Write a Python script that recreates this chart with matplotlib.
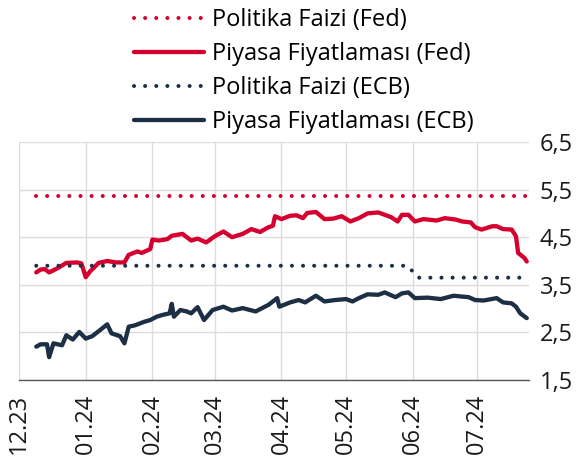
import matplotlib
matplotlib.use("Agg")
import matplotlib.pyplot as plt
import matplotlib.dates as mdates
import pandas as pd

plt.rcParams["font.family"] = ["Open Sans", "DejaVu Sans"]

RED = "#D5002F"
NAVY = "#1C2F45"

# Piyasa fiyatlamasi (Fed)
fed_dates = [
    "2023-12-09", "2023-12-11", "2023-12-13", "2023-12-15", "2023-12-19",
    "2023-12-23", "2023-12-28", "2023-12-30", "2024-01-01", "2024-01-03",
    "2024-01-07", "2024-01-11", "2024-01-15", "2024-01-19", "2024-01-21",
    "2024-01-25", "2024-01-27", "2024-01-31", "2024-02-01", "2024-02-04",
    "2024-02-08", "2024-02-10", "2024-02-15", "2024-02-19", "2024-02-22",
    "2024-02-26", "2024-03-01", "2024-03-05", "2024-03-09", "2024-03-14",
    "2024-03-18", "2024-03-22", "2024-03-26", "2024-03-28", "2024-03-29",
    "2024-04-01", "2024-04-05", "2024-04-08", "2024-04-11", "2024-04-13",
    "2024-04-17", "2024-04-21", "2024-04-25", "2024-04-29", "2024-05-03",
    "2024-05-07", "2024-05-11", "2024-05-16", "2024-05-22", "2024-05-25",
    "2024-05-27", "2024-05-30", "2024-06-02", "2024-06-06", "2024-06-12",
    "2024-06-16", "2024-06-21", "2024-06-24", "2024-06-28", "2024-06-30",
    "2024-07-03", "2024-07-08", "2024-07-10", "2024-07-13", "2024-07-17",
    "2024-07-19", "2024-07-20", "2024-07-23", "2024-07-24",
]
fed_market = [
    3.76, 3.82, 3.83, 3.76, 3.85,
    3.96, 3.97, 3.95, 3.66, 3.78,
    3.96, 4.00, 3.97, 3.97, 4.13,
    4.20, 4.17, 4.25, 4.45, 4.43,
    4.46, 4.53, 4.57, 4.43, 4.47,
    4.39, 4.52, 4.62, 4.50, 4.57,
    4.67, 4.61, 4.71, 4.74, 4.94,
    4.88, 4.95, 4.96, 4.90, 5.01,
    5.03, 4.88, 4.89, 4.94, 4.83,
    4.90, 5.00, 5.02, 4.92, 4.83,
    4.97, 4.97, 4.83, 4.88, 4.85,
    4.90, 4.87, 4.83, 4.81, 4.71,
    4.66, 4.73, 4.73, 4.67, 4.66,
    4.52, 4.17, 4.06, 3.99,
]

# Piyasa fiyatlamasi (ECB)
ecb_dates = [
    "2023-12-09", "2023-12-11", "2023-12-14", "2023-12-15", "2023-12-17",
    "2023-12-21", "2023-12-23", "2023-12-26", "2023-12-29", "2024-01-01",
    "2024-01-04", "2024-01-08", "2024-01-11", "2024-01-13", "2024-01-17",
    "2024-01-19", "2024-01-21", "2024-01-24", "2024-01-28", "2024-01-31",
    "2024-02-03", "2024-02-06", "2024-02-09", "2024-02-10", "2024-02-11",
    "2024-02-14", "2024-02-17", "2024-02-19", "2024-02-22", "2024-02-25",
    "2024-02-29", "2024-03-05", "2024-03-09", "2024-03-14", "2024-03-20",
    "2024-03-26", "2024-03-30", "2024-03-31", "2024-04-05", "2024-04-09",
    "2024-04-12", "2024-04-17", "2024-04-21", "2024-04-26", "2024-05-01",
    "2024-05-04", "2024-05-07", "2024-05-11", "2024-05-16", "2024-05-19",
    "2024-05-24", "2024-05-27", "2024-05-30", "2024-06-02", "2024-06-08",
    "2024-06-14", "2024-06-20", "2024-06-27", "2024-06-30", "2024-07-04",
    "2024-07-10", "2024-07-13", "2024-07-17", "2024-07-19", "2024-07-21",
    "2024-07-24",
]
ecb_market = [
    2.20, 2.25, 2.25, 1.98, 2.27,
    2.23, 2.44, 2.35, 2.51, 2.37,
    2.42, 2.56, 2.67, 2.48, 2.42,
    2.27, 2.62, 2.65, 2.72, 2.76,
    2.83, 2.87, 2.90, 3.10, 2.83,
    2.97, 2.94, 2.90, 3.03, 2.76,
    2.97, 3.04, 2.96, 3.01, 2.94,
    3.08, 3.22, 3.04, 3.13, 3.18,
    3.13, 3.27, 3.15, 3.18, 3.20,
    3.15, 3.22, 3.30, 3.29, 3.34,
    3.24, 3.32, 3.34, 3.22, 3.23,
    3.20, 3.27, 3.24, 3.18, 3.17,
    3.22, 3.13, 3.11, 3.04, 2.90,
    2.80,
]

# Politika faizleri
fed_policy_dates = ["2023-12-09", "2024-07-24"]
fed_policy = [5.375, 5.375]
ecb_policy_dates = ["2023-12-09", "2024-05-30", "2024-06-03", "2024-07-24"]
ecb_policy = [3.90, 3.90, 3.65, 3.65]

labels = [
    "Politika Faizi (Fed)",
    "Piyasa Fiyatlaması (Fed)",
    "Politika Faizi (ECB)",
    "Piyasa Fiyatlaması (ECB)",
]
y_ticks = [1.5, 2.5, 3.5, 4.5, 5.5, 6.5]

fig = plt.figure(figsize=(5.87, 4.61), dpi=100)
ax = fig.add_axes([0.0324, 0.1757, 0.8686, 0.5163])

dot = dict(lw=2.9, linestyle=(0, (0.01, 2.75)), dash_capstyle="round")
solid = dict(lw=3.1, solid_capstyle="round", solid_joinstyle="round")

h1, = ax.plot(pd.to_datetime(fed_policy_dates), fed_policy, color=RED, **dot)
h2, = ax.plot(pd.to_datetime(fed_dates), fed_market, color=RED, **solid)
h3, = ax.plot(pd.to_datetime(ecb_policy_dates), ecb_policy, color=NAVY, **dot)
h4, = ax.plot(pd.to_datetime(ecb_dates), ecb_market, color=NAVY, **solid)

ax.set_xlim(pd.Timestamp("2023-12-01"), pd.Timestamp("2024-07-25"))
ax.set_ylim(1.5, 6.5)
ax.set_yticks(y_ticks)
ax.set_yticklabels([f"{v:.1f}".replace(".", ",") for v in y_ticks])
ax.yaxis.tick_right()

ax.xaxis.set_major_locator(mdates.MonthLocator())
ax.xaxis.set_major_formatter(mdates.DateFormatter("%m.%y"))
for t in ax.get_xticklabels():
    t.set_rotation(90)

ax.tick_params(axis="x", length=0, pad=10, labelsize=17, colors="#1a1a1a")
ax.tick_params(axis="y", length=0, pad=8, labelsize=17, colors="#1a1a1a")

ax.grid(True, color="#DCDCDC", lw=1.0)
ax.set_axisbelow(True)
for s in ["top", "right", "left"]:
    ax.spines[s].set_visible(False)
ax.spines["bottom"].set_color("#555555")
ax.spines["bottom"].set_linewidth(1.0)

fig.legend(
    [h1, h2, h3, h4], labels,
    loc="upper left", bbox_to_anchor=(0.222, 0.99),
    frameon=False, fontsize=17, handlelength=2.95, handletextpad=0.38,
    labelspacing=0.42, borderpad=0.15, borderaxespad=0,
)

fig.savefig("out.png", dpi=100)
